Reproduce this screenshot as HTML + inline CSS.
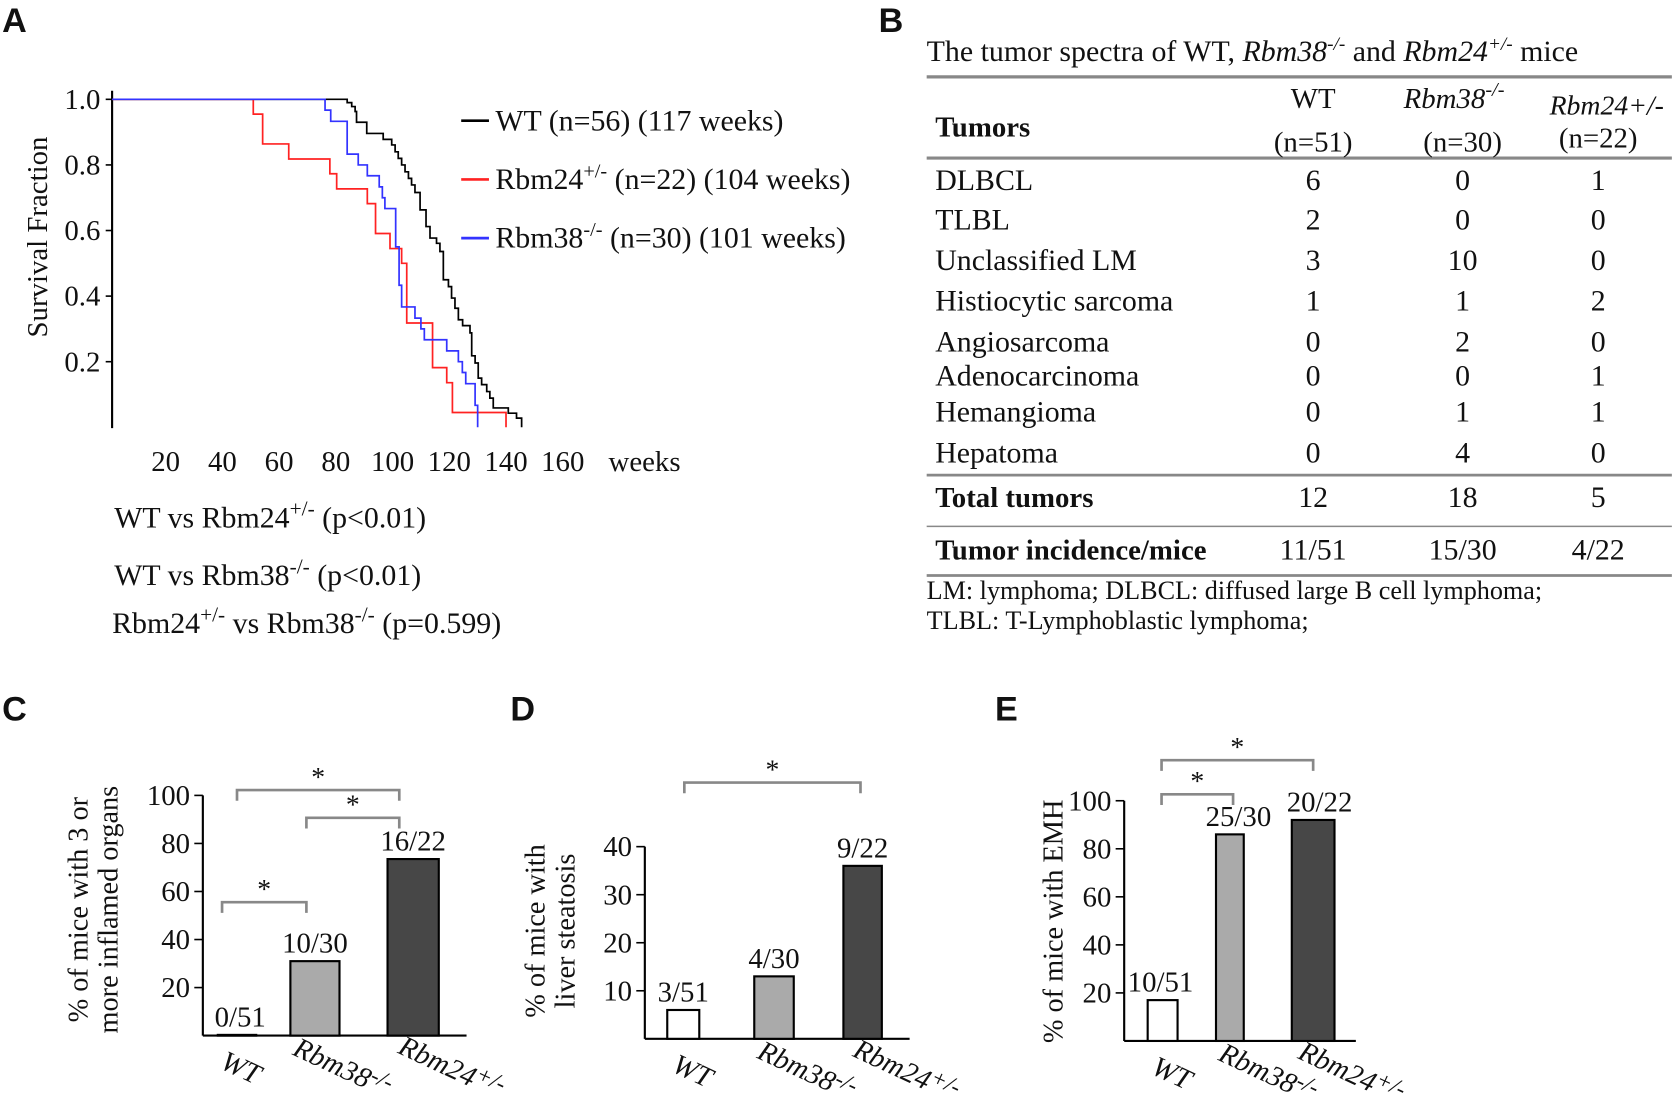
<!DOCTYPE html>
<html><head><meta charset="utf-8"><style>
html,body{margin:0;padding:0;background:#fff}
svg{display:block}
text{font-family:"Liberation Serif","Times New Roman",serif;fill:#111}
.pl{font-family:"Liberation Sans",sans-serif;font-weight:bold;font-size:32px}
</style></head><body>
<svg id="fig" width="1674" height="1120" viewBox="0 0 1568 1049" xmlns="http://www.w3.org/2000/svg">
<text class="pl" x="2" y="30">A</text>
<text class="pl" x="823" y="30">B</text>
<text class="pl" x="2" y="675">C</text>
<text class="pl" x="478" y="675">D</text>
<text class="pl" x="932" y="675">E</text>
<g id="survival"></g>
<g id="table"></g>
<g id="barC"></g>
<g id="barD"></g>
<g id="barE"></g>
</svg>
<script>
// ---- Survival data ----
const wtWeeks=[84.0,85.6,86.8,87.3,90.9,96.7,99.7,100.9,102.0,103.2,104.4,105.6,106.7,107.9,109.7,111.8,113.2,115.5,116.7,117.9,119.7,120.8,122.0,123.2,124.7,127.3,127.9,129.1,130.2,131.4,133.2,134.3,135.5,140.8,143.7,145.5];
const wtSurv=[0.990,0.978,0.963,0.930,0.896,0.878,0.861,0.840,0.820,0.800,0.779,0.759,0.739,0.716,0.663,0.612,0.577,0.561,0.536,0.450,0.429,0.394,0.363,0.328,0.310,0.288,0.218,0.196,0.150,0.130,0.109,0.089,0.059,0.043,0.028,0];
const rbm24Weeks=[50.9,54.2,63.4,77.9,80.3,91.1,94.0,99.1,103.2,105.0,114.1,119.1,121.1,140.0];
const rbm24Surv=[0.955,0.864,0.818,0.773,0.727,0.682,0.591,0.545,0.5,0.318,0.182,0.136,0.045,0];
const rbm38Weeks=[76.2,78.2,84.0,87.9,91.1,95.3,96.4,97.3,101.1,102.3,103.2,107.9,110.0,111.2,119.1,123.2,124.6,125.8,129.1,130.0];
const rbm38Surv=[0.967,0.933,0.833,0.8,0.767,0.733,0.7,0.667,0.55,0.433,0.367,0.333,0.3,0.267,0.233,0.2,0.167,0.133,0.067,0];
const xTicks=[20,40,60,80,100,120,140,160];
const yTicks=[0.2,0.4,0.6,0.8,1.0];
// ---- Bar data ----
const barCats=["WT","Rbm38-/-","Rbm24+/-"];
const cValues=[0.3,31,73.5];
const cLabels=["0/51","10/30","16/22"];
const cTicks=[20,40,60,80,100];
const dValues=[6,13,36];
const dLabels=["3/51","4/30","9/22"];
const dTicks=[10,20,30,40];
const eValues=[17,86,92];
const eLabels=["10/51","25/30","20/22"];
const eTicks=[20,40,60,80,100];

const NS="http://www.w3.org/2000/svg";
function mk(parent,tag,attrs,txt){const e=document.createElementNS(NS,tag);for(const k in attrs)e.setAttribute(k,attrs[k]);if(txt!==undefined)e.textContent=txt;parent.appendChild(e);return e;}

// Survival chart
(function(){
const g=document.getElementById('survival');
const sx=w=>102+w*2.657, sy=s=>400.2-s*307.2;
let e=mk(g,'line',{x1:105,y1:85,x2:105,y2:401,stroke:'#000','stroke-width':2});

yTicks.forEach(t=>{mk(g,'line',{x1:99,x2:105,y1:sy(t),y2:sy(t),stroke:'#000','stroke-width':1.5});
 let tx=mk(g,'text',{x:94,y:sy(t)+9,'text-anchor':'end','font-size':27},t.toFixed(1));
 });
xTicks.forEach(t=>{let tx=mk(g,'text',{x:sx(t),y:441,'text-anchor':'middle','font-size':27},String(t));
 });
e=mk(g,'text',{x:570,y:441,'font-size':27},'weeks');
e=mk(g,'text',{x:0,y:0,'font-size':27,'text-anchor':'middle',transform:'translate(44,222) rotate(-90)'},'Survival Fraction');

function curve(ws,ss,col,name){let d=`M105 ${sy(1)}`;ws.forEach((w,i)=>{d+=` H${sx(w)} V${sy(ss[i])}`;});
 const p=mk(g,'path',{d:d,fill:'none',stroke:col,'stroke-width':1.6});}
curve(wtWeeks,wtSurv,'#000','wt-curve');
curve(rbm24Weeks,rbm24Surv,'#f22','rbm24-curve');
curve(rbm38Weeks,rbm38Surv,'#33f','rbm38-curve');
const leg=[['#000','WT (n=56) (117 weeks)',113,''],['#f22','Rbm24',168,'+/-'],['#33f','Rbm38',223,'-/-']];
const rest=['',' (n=22) (104 weeks)',' (n=30) (101 weeks)'];
leg.forEach((l,i)=>{mk(g,'line',{x1:432,x2:458,y1:l[2],y2:l[2],stroke:l[0],'stroke-width':2.5});
 const t=mk(g,'text',{x:464,y:l[2]+9,'font-size':28});
 mk(t,'tspan',{},l[1]);if(l[3]){mk(t,'tspan',{dy:-11,'font-size':19},l[3]);mk(t,'tspan',{dy:11},rest[i]);}});
const pv=[[107,494,'WT vs Rbm24','+/-',' (p<0.01)'],[107,548,'WT vs Rbm38','-/-',' (p<0.01)'],[105,593,'Rbm24','+/-',' vs Rbm38','-/-',' (p=0.599)']];
pv.forEach(p=>{const t=mk(g,'text',{x:p[0],y:p[1],'font-size':28});
 mk(t,'tspan',{},p[2]);mk(t,'tspan',{dy:-11,'font-size':20},p[3]);mk(t,'tspan',{dy:11},p[4]);
 if(p[5]){mk(t,'tspan',{dy:-11,'font-size':20},p[5]);mk(t,'tspan',{dy:11},p[6]);}});
})();

// Table
(function(){
const g=document.getElementById('table');
let t=mk(g,'text',{x:868,y:57,'font-size':28});
mk(t,'tspan',{},'The tumor spectra of WT, ');mk(t,'tspan',{'font-style':'italic'},'Rbm38');mk(t,'tspan',{dy:-10,'font-size':18,'font-style':'italic'},'-/-');
mk(t,'tspan',{dy:10},' and ');mk(t,'tspan',{'font-style':'italic'},'Rbm24');mk(t,'tspan',{dy:-10,'font-size':18,'font-style':'italic'},'+/-');mk(t,'tspan',{dy:10},' mice');
[[72,3],[148,3],[445,2.5],[493,1.5],[539,2.5]].forEach(l=>mk(g,'line',{x1:868,x2:1566,y1:l[0],y2:l[0],stroke:'#888','stroke-width':l[1]}));
mk(g,'text',{x:876,y:128,'font-size':27,'font-weight':'bold'},'Tumors');
mk(g,'text',{x:1230,y:101,'font-size':27,'text-anchor':'middle'},'WT');
mk(g,'text',{x:1230,y:142,'font-size':27,'text-anchor':'middle'},'(n=51)');
t=mk(g,'text',{x:1362,y:101,'font-size':27,'text-anchor':'middle','font-style':'italic'});mk(t,'tspan',{},'Rbm38');mk(t,'tspan',{dy:-11,'font-size':19},'-/-');
mk(g,'text',{x:1370,y:142,'font-size':27,'text-anchor':'middle'},'(n=30)');
mk(g,'text',{x:1505,y:107,'font-size':26,'text-anchor':'middle','font-style':'italic'},'Rbm24+/-');
mk(g,'text',{x:1497,y:138,'font-size':27,'text-anchor':'middle'},'(n=22)');
const rows=[['DLBCL',6,0,1,169],['TLBL',2,0,0,206],['Unclassified LM',3,10,0,244],['Histiocytic sarcoma',1,1,2,282],['Angiosarcoma',0,2,0,320],['Adenocarcinoma',0,0,1,352],['Hemangioma',0,1,1,386],['Hepatoma',0,4,0,424]];
rows.forEach(r=>{const y=r[4]+9;let e=mk(g,'text',{x:876,y:y,'font-size':28},r[0]);
 [1230,1370,1497].forEach((x,i)=>mk(g,'text',{x:x,y:y,'font-size':28,'text-anchor':'middle'},String(r[i+1])));});
mk(g,'text',{x:876,y:475,'font-size':27,'font-weight':'bold'},'Total tumors');
[['12',1230],['18',1370],['5',1497]].forEach(v=>mk(g,'text',{x:v[1],y:475,'font-size':28,'text-anchor':'middle'},v[0]));
mk(g,'text',{x:876,y:524,'font-size':27,'font-weight':'bold'},'Tumor incidence/mice');
[['11/51',1230],['15/30',1370],['4/22',1497]].forEach(v=>mk(g,'text',{x:v[1],y:524,'font-size':28,'text-anchor':'middle'},v[0]));
mk(g,'text',{x:868,y:561,'font-size':24.5},'LM: lymphoma; DLBCL: diffused large B cell lymphoma;');
mk(g,'text',{x:868,y:589,'font-size':24.5},'TLBL: T-Lymphoblastic lymphoma;');
})();

// Bar charts
function barChart(id,cfg,values,labels,ticks){
const g=document.getElementById(id);
const y=v=>cfg.y0-v*cfg.k;
const top=y(ticks[ticks.length-1]);
let e=mk(g,'line',{x1:cfg.ax,x2:cfg.ax,y1:top,y2:cfg.y0,stroke:'#000','stroke-width':2});
e=mk(g,'line',{x1:cfg.ax,x2:cfg.axEnd,y1:cfg.y0,y2:cfg.y0,stroke:'#000','stroke-width':2});
ticks.forEach(t=>{mk(g,'line',{x1:cfg.ax-8,x2:cfg.ax,y1:y(t),y2:y(t),stroke:'#000','stroke-width':1.5});
 const tx=mk(g,'text',{x:cfg.ax-12,y:y(t)+9,'text-anchor':'end','font-size':27},String(t));});
const fills=['#fff','#aaa','#474747'];
values.forEach((v,i)=>{const c=cfg.cx[i],w=cfg.w[i];
 const r=mk(g,'rect',{x:c-w/2,y:y(v),width:w,height:cfg.y0-y(v),fill:fills[i],stroke:'#000','stroke-width':2});
 
 const lx=cfg.lx?cfg.lx[i]:c;
 const l=mk(g,'text',{x:lx,y:y(v)-8,'text-anchor':'middle','font-size':27},labels[i]);
 const cl=mk(g,'text',{x:0,y:0,'font-size':27,'font-style':'italic','text-anchor':'middle',transform:`translate(${c+cfg.catDx[i]},${cfg.y0+38}) rotate(25)`});
 
 const m=barCats[i].match(/^(\w+?)([-+/]+)$/);
 if(m){mk(cl,'tspan',{},m[1]);mk(cl,'tspan',{dy:-8,'font-size':22},m[2]);}else cl.textContent=barCats[i];});
cfg.br.forEach(b=>{const p=mk(g,'path',{d:`M${b[0]} ${b[2]+10} V${b[2]} H${b[1]} V${b[2]+10}`,fill:'none',stroke:'#888','stroke-width':2.5});
 
 const s=mk(g,'text',{x:(b[0]+b[1])/2,y:b[2]-4,'text-anchor':'middle','font-size':26},'*');});
cfg.title.forEach((t,i)=>{const tt=mk(g,'text',{x:0,y:0,'font-size':26.5,'text-anchor':'middle',transform:`translate(${cfg.tx[i]},${cfg.ty}) rotate(-90)`},t);
 });
}
barChart('barC',{ax:190,axEnd:437,y0:970,k:2.25,cx:[222,295,387],w:[36,46,48],catDx:[0,22,32],
 br:[[208,287,845],[287,374,766],[222,374,740]],title:['% of mice with 3 or','more inflamed organs'],tx:[82,110],ty:852,lx:[225,295,387]},cValues,cLabels,cTicks);
barChart('barD',{ax:604,axEnd:852,y0:973,k:4.5,cx:[640,725,808],w:[30,37,36],catDx:[5,27,37],
 br:[[641,806,733]],title:['% of mice with','liver steatosis'],tx:[510,538],ty:872},dValues,dLabels,dTicks);
barChart('barE',{ax:1053,axEnd:1270,y0:975,k:2.25,cx:[1089,1152,1230],w:[28,26,40],catDx:[5,32,32],
 br:[[1088,1155,744],[1088,1230,712]],title:['% of mice with EMH'],tx:[995],ty:863,lx:[1087,1160,1236]},eValues,eLabels,eTicks);
</script>
</body></html>
